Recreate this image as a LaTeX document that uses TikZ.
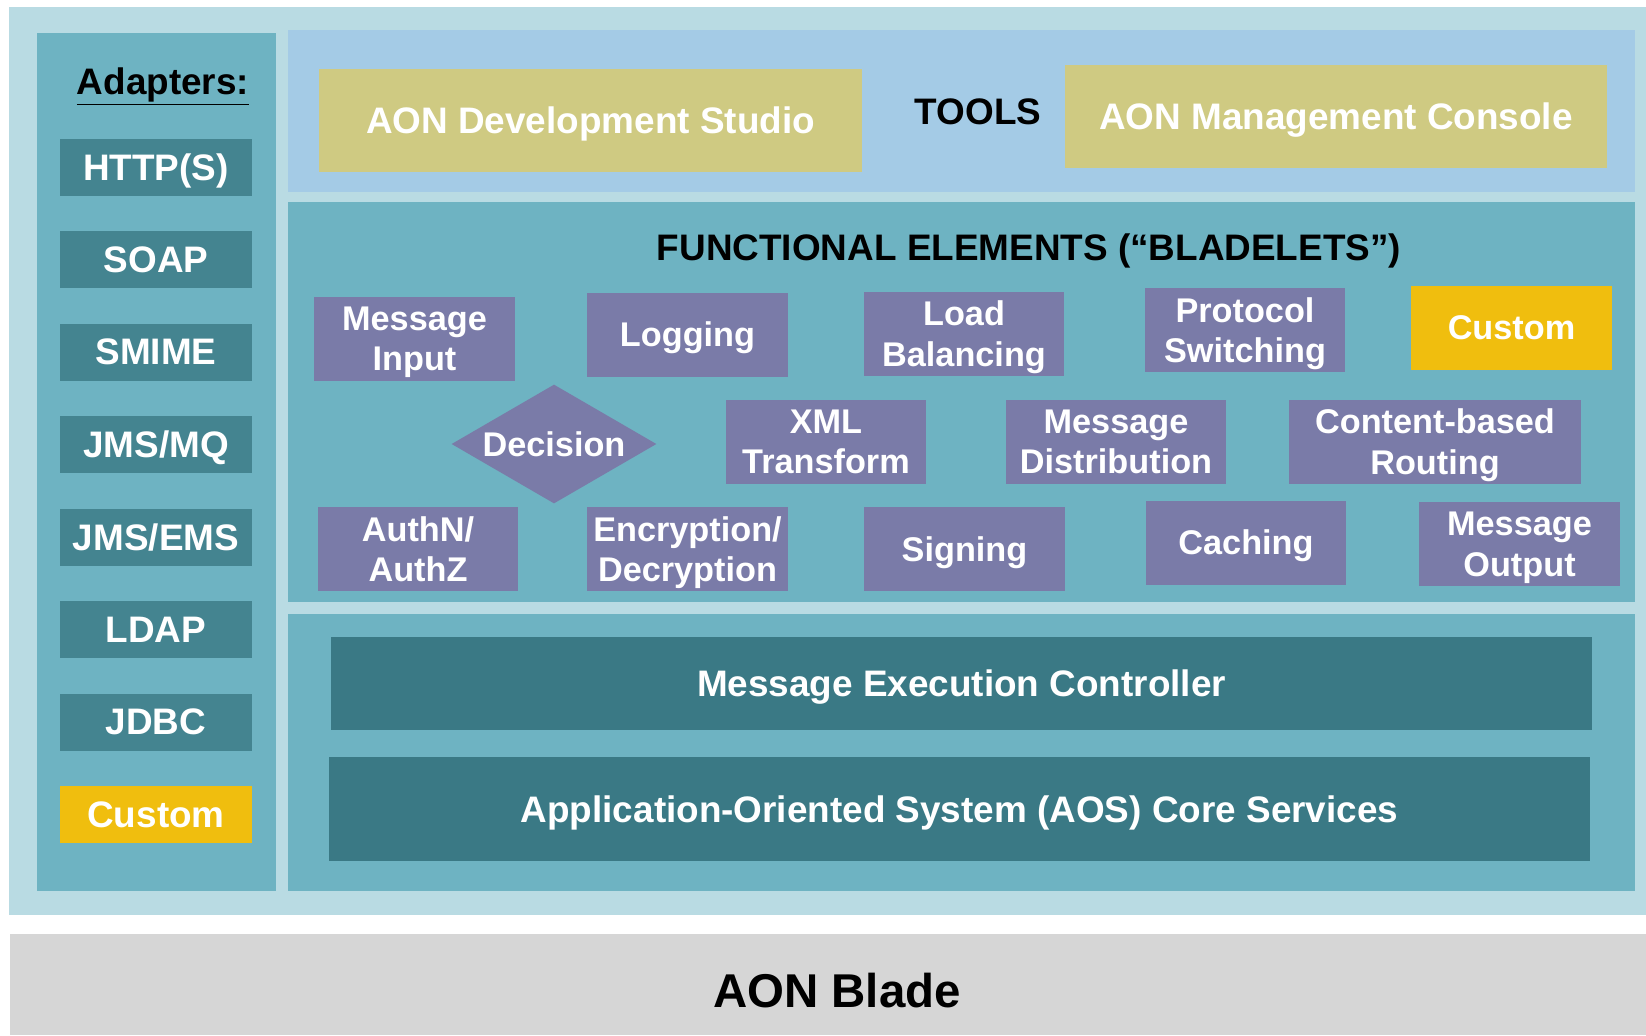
\documentclass[tikz,border=0pt]{standalone}
\usepackage{fontspec}
\setmainfont{Liberation Sans}
\usepackage{tikz}
\usetikzlibrary{shapes.geometric}

\definecolor{outerbg}{HTML}{B9DBE3}
\definecolor{panelbg}{HTML}{6EB3C2}
\definecolor{toolsbg}{HTML}{A4CBE6}
\definecolor{adapterbg}{HTML}{448490}
\definecolor{corebg}{HTML}{3A7985}
\definecolor{khaki}{HTML}{CFCA82}
\definecolor{bladelet}{HTML}{7A7BA8}
\definecolor{custom}{HTML}{F0BE0E}
\definecolor{bladebg}{HTML}{D6D6D6}

\begin{document}
\begin{tikzpicture}[x=0.02cm,y=-0.02cm]
		\useasboundingbox (0,0) rectangle (1646,1035);

		\fill[outerbg] (9,7) rectangle (1646,915);
		\fill[panelbg] (37,33) rectangle (276,891);
		\fill[toolsbg] (288,30) rectangle (1635,192);
		\fill[panelbg] (288,202) rectangle (1635,602);
		\fill[panelbg] (288,614) rectangle (1635,891);
		\fill[bladebg] (10,934) rectangle (1646,1035);

		\begin{scope}[every node/.style={text=black,inner sep=0pt,text depth=0pt,font=\fontsize{21}{24}\selectfont\bfseries}]
			\node (adapters) at (163,81) {\underline{Adapters:}};
			\node (tools) at (978,112) {TOOLS};
			\node (fe) at (1029,247) {FUNCTIONAL ELEMENTS (“BLADELETS”)};
			\node[font=\fontsize{27}{30}\selectfont\bfseries] (blade) at (837,990) {AON Blade};
		\end{scope}

		\begin{scope}[every node/.style={fill=adapterbg,text=white,inner sep=0pt,text depth=0pt,
					  minimum width=3.84cm,minimum height=1.14cm,
					  font=\fontsize{21}{24}\selectfont\bfseries}]
			\node (http) at (156,167) {HTTP(S)};
			\node (soap) at (156,259.5) {SOAP};
			\node (smime) at (156,352) {SMIME};
			\node (jmsmq) at (156,444.5) {JMS/MQ};
			\node (jmsems) at (156,537) {JMS/EMS};
			\node (ldap) at (156,629.5) {LDAP};
			\node (jdbc) at (156,722) {JDBC};
			\node[fill=custom] (custA) at (156,814.5) {Custom};
		\end{scope}

		\begin{scope}[every node/.style={fill=khaki,text=white,inner sep=0pt,text depth=0pt,
					  minimum width=10.86cm,minimum height=2.06cm,
					  font=\fontsize{21}{24}\selectfont\bfseries}]
			\node (studio) at (590.5,120.5) {AON Development Studio};
			\node (console) at (1336,116.5) {AON Management Console};
		\end{scope}

		\begin{scope}[every node/.style={fill=bladelet,text=white,inner sep=0pt,text depth=0pt,align=center,
					  minimum width=4.02cm,minimum height=1.68cm,
					  font=\fontsize{19.5}{23}\selectfont\bfseries}]
			\node (msgin) at (414.5,339) {Message\\Input};
			\node (logging) at (687.5,334.5) {Logging};
			\node (loadbal) at (964,333.5) {Load\\Balancing};
			\node (protocol) at (1245,330) {Protocol\\Switching};
			\node[fill=custom] (custB) at (1511.5,328) {Custom};

			\node[diamond,aspect=1.72,minimum width=4.1cm,minimum height=2.38cm] (decision) at (554,444) {Decision};
			\node (xml) at (826,441.5) {XML\\Transform};
			\node[minimum width=4.4cm] (msgdist) at (1116,441.5) {Message\\Distribution};
			\node[minimum width=5.84cm] (cbr) at (1435,441.5) {Content-based\\Routing};

			\node (authn) at (418,549) {AuthN/\\AuthZ};
			\node (crypt) at (687.5,549) {Encryption/\\Decryption};
			\node (signing) at (964.5,549) {Signing};
			\node (caching) at (1246,542.5) {Caching};
			\node (msgout) at (1519.5,544) {Message\\Output};
		\end{scope}

		\begin{scope}[every node/.style={fill=corebg,text=white,inner sep=0pt,text depth=0pt,
					  minimum width=25.22cm,
					  font=\fontsize{21}{24}\selectfont\bfseries}]
			\node[minimum height=1.86cm] (mec) at (961.5,683.5) {Message Execution Controller};
			\node[minimum height=2.08cm] (aos) at (959.5,809) {Application-Oriented System (AOS) Core Services};
		\end{scope}
		\end{tikzpicture}
\end{document}
